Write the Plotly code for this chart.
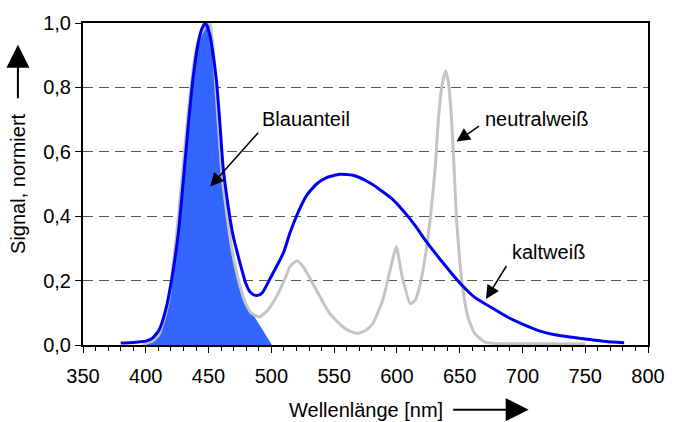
import plotly.graph_objects as go

# kaltweiß (cold white) spectrum
kalt_nm = [380, 390, 400, 405, 410.5, 415.7, 420.9, 426, 430, 434, 438, 442, 445, 447.5,
           451, 453.7, 456.3, 459, 461.5, 465.5, 469.4, 474.7, 479.8, 483, 486.5, 490, 493,
           499.5, 505, 510, 515, 522, 528, 536, 544, 554.5, 565, 575.5, 586, 596.4, 607,
           614.7, 622.6, 635.7, 648.7, 662, 675, 688, 701, 714, 727, 740, 753.5, 766.6, 781]
kalt_val = [0.006, 0.008, 0.012, 0.02, 0.046, 0.107, 0.21, 0.35, 0.515, 0.69, 0.84, 0.943, 0.985, 1.0,
            0.963, 0.90, 0.82, 0.69, 0.556, 0.434, 0.342, 0.26, 0.19, 0.165, 0.155, 0.155, 0.163,
            0.21, 0.25, 0.29, 0.35, 0.418, 0.464, 0.50, 0.52, 0.53, 0.527, 0.51, 0.484, 0.453, 0.408,
            0.37, 0.326, 0.26, 0.199, 0.148, 0.117, 0.087, 0.063, 0.043, 0.031, 0.024, 0.017, 0.011, 0.007]

# neutralweiß (neutral white) spectrum
neutral_nm = [397, 405, 410, 413, 418.3, 423.6, 427.5, 431.5, 435.4, 439.3, 443.3, 446, 449, 451,
              453.7, 456.3, 459, 461, 463, 468, 473.3, 478.6, 483.8, 490.4, 496.9, 504.8, 511.3,
              515, 520.5, 525, 528.3, 536.2, 546.6, 557.1, 563, 568.9, 575, 580.7, 588.6, 595.1,
              599.5, 604.3, 610.8, 614.7, 618, 622, 626.5, 630.4, 633, 635.7, 638.8, 640.9, 643.6,
              645.6, 647.5, 650.1, 652.7, 656.6, 661.9, 669.7, 677.6, 700, 725, 750]
neutral_val = [0.003, 0.012, 0.03, 0.06, 0.14, 0.31, 0.46, 0.63, 0.78, 0.90, 0.96, 0.98, 0.997, 1.0,
               0.92, 0.77, 0.62, 0.515, 0.453, 0.31, 0.21, 0.138, 0.10, 0.087, 0.107, 0.155, 0.21,
               0.245, 0.262, 0.245, 0.224, 0.168, 0.097, 0.056, 0.042, 0.036, 0.045, 0.066, 0.138, 0.24,
               0.306, 0.21, 0.128, 0.14, 0.18, 0.26, 0.39, 0.545, 0.698, 0.80, 0.851, 0.82, 0.698,
               0.545, 0.39, 0.26, 0.168, 0.087, 0.036, 0.01, 0.005, 0.004, 0.004, 0.003]

# Blauanteil (blue share) filled area
blau_nm = [400, 405, 410, 413, 418.3, 423.6, 427.5, 431.5, 435.4, 439.3, 443.3, 446, 449, 451,
           453.7, 456.3, 459, 461, 463, 468, 473.3, 478.6, 500.5]
blau_val = [0.0, 0.012, 0.03, 0.06, 0.14, 0.31, 0.46, 0.63, 0.78, 0.90, 0.96, 0.98, 0.997, 1.0,
            0.92, 0.77, 0.62, 0.515, 0.453, 0.31, 0.21, 0.138, 0.0]

x_ticks = [350, 400, 450, 500, 550, 600, 650, 700, 750, 800]
y_ticks = [0.0, 0.2, 0.4, 0.6, 0.8, 1.0]

FONT = "Liberation Sans, Arial, sans-serif"
FS = 20

fig = go.Figure()
fig.add_trace(go.Scatter(x=blau_nm, y=blau_val, mode="lines", fill="tozeroy",
                         fillcolor="#3366FF", line=dict(width=0, color="#3366FF"),
                         showlegend=False, hoverinfo="skip"))
fig.add_trace(go.Scatter(x=neutral_nm, y=neutral_val, mode="lines",
                         line=dict(color="#C4C4C4", width=3, shape="spline", smoothing=0.5),
                         name="neutralweiß", showlegend=False))
fig.add_trace(go.Scatter(x=kalt_nm, y=kalt_val, mode="lines",
                         line=dict(color="#0000F0", width=3, shape="spline", smoothing=0.5),
                         name="kaltweiß", showlegend=False))

annotations = [
    dict(x=527.5, y=0.703, xref="x", yref="y", text="Blauanteil", showarrow=False,
         xanchor="center", yanchor="middle",
         font=dict(size=FS, color="black", family=FONT)),
    dict(x=451.3, y=0.492, ax=490.6, ay=0.664, xref="x", yref="y", axref="x", ayref="y",
         text="", showarrow=True, arrowhead=2, arrowsize=1.8, arrowwidth=1.5, arrowcolor="black"),
    dict(x=711.4, y=0.703, xref="x", yref="y", text="neutralweiß", showarrow=False,
         xanchor="center", yanchor="middle",
         font=dict(size=FS, color="black", family=FONT)),
    dict(x=647.5, y=0.632, ax=666.6, ay=0.683, xref="x", yref="y", axref="x", ayref="y",
         text="", showarrow=True, arrowhead=2, arrowsize=1.8, arrowwidth=1.5, arrowcolor="black"),
    dict(x=720.8, y=0.29, xref="x", yref="y", text="kaltweiß", showarrow=False,
         xanchor="center", yanchor="middle",
         font=dict(size=FS, color="black", family=FONT)),
    dict(x=671, y=0.143, ax=688, ay=0.25, xref="x", yref="y", axref="x", ayref="y",
         text="", showarrow=True, arrowhead=2, arrowsize=1.8, arrowwidth=1.5, arrowcolor="black"),
    # axis titles
    dict(x=-0.1152, y=0.503, xref="paper", yref="paper", text="Signal, normiert",
         textangle=-90, showarrow=False, xanchor="center", yanchor="middle",
         font=dict(size=FS, color="black", family=FONT)),
    dict(x=-0.1152, y=0.9327, xref="paper", yref="paper", ax=0, ay=55, text="",
         showarrow=True, arrowhead=2, arrowsize=2.3, arrowwidth=2, arrowcolor="black"),
    dict(x=0.5009, y=-0.2018, xref="paper", yref="paper", text="Wellenlänge [nm]",
         showarrow=False, xanchor="center", yanchor="middle",
         font=dict(size=FS, color="black", family=FONT)),
    dict(x=0.7888, y=-0.2009, xref="paper", yref="paper", ax=-77, ay=0, text="",
         showarrow=True, arrowhead=2, arrowsize=2.3, arrowwidth=2, arrowcolor="black"),
]

fig.update_layout(
    width=677, height=422,
    margin=dict(l=83, r=21, t=18, b=77),
    paper_bgcolor="white", plot_bgcolor="white",
    separators=",.",
    font=dict(family=FONT, size=FS, color="black"),
    annotations=annotations,
    showlegend=False,
)
fig.update_xaxes(range=[350, 800], tickvals=x_ticks, ticks="outside", ticklen=6, tickwidth=1,
                 tickcolor="black", showgrid=False, zeroline=False, ticklabelstandoff=6,
                 showline=True, mirror=True, linecolor="black", linewidth=2,
                 minor=dict(dtick=10, ticks="outside", ticklen=4, tickcolor="black", tickwidth=1),
                 tickfont=dict(size=FS, family=FONT))
fig.update_yaxes(range=[0, 1], tickvals=y_ticks, tickformat=".1f", ticks="outside", ticklen=6,
                 tickwidth=1, tickcolor="black", showgrid=True, gridcolor="#555555",
                 griddash="10px,6px", gridwidth=1, zeroline=False,
                 showline=True, mirror=True, linecolor="black", linewidth=2,
                 tickfont=dict(size=FS, family=FONT))

fig.write_html("out.html")
